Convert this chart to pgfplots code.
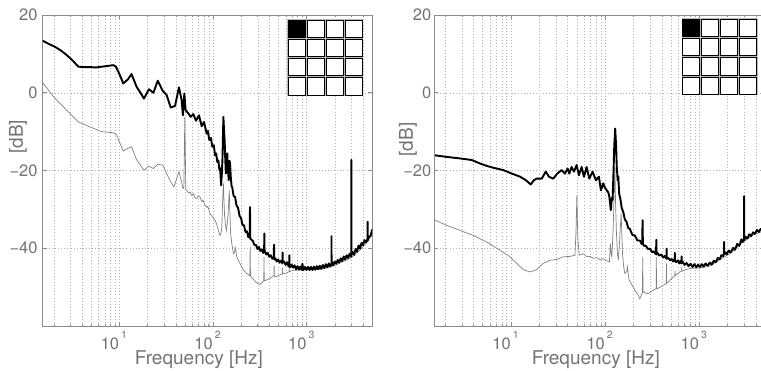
\documentclass[border=0pt]{standalone}
\usepackage{fontspec}
\setmainfont{TeX Gyre Heros}
\usepackage{pgfplots}
\pgfplotsset{compat=1.18}
\definecolor{txt}{gray}{0.45}
\definecolor{axl}{gray}{0.55}
\definecolor{grd}{gray}{0.7}
\definecolor{curv}{gray}{0.5}
\newcommand{\expo}[1]{\rlap{\hspace{2pt}\raisebox{11pt}{\fontsize{10.5}{10.5}\selectfont #1}}}
\newcommand{\icon}[2]{%
  \begin{scope}[x=1pt,y=1pt]
  \fill[gray!55] (#1,#2) rectangle ++(76,-77);
  \foreach \i in {0,...,3}{\foreach \j in {0,...,3}{
    \draw[black, line width=0.8pt, fill=white] ({#1+\i*19+1.0},{#2-\j*19.25-1.0}) rectangle ++(17,-17.25);}}
  \draw[black, line width=0.8pt, fill=black] ({#1+1.0},{#2-1.0}) rectangle ++(17,-17.25);
  \end{scope}}
\begin{document}
\begin{tikzpicture}
\begin{axis}[width=329.5pt, at={(42.7pt,45pt)}, anchor=south west,
  scale only axis, xmode=log,
  xmin=1.52, xmax=5000, ymin=-60, ymax=20, height=311pt,
  xtick={10,100,1000},
  xticklabels={10\expo{1},10\expo{2},10\expo{3}},
  minor xtick={2,3,4,5,6,7,8,9,20,30,40,50,60,70,80,90,200,300,400,500,600,700,800,900,2000,3000,4000},
  ytick={-40,-20,0,20},
  yticklabels={−40,−20,0,20},
  grid=both,
  major grid style={grd, dash pattern=on 0.5pt off 2.6pt, line width=0.45pt},
  minor grid style={grd, dash pattern=on 0.5pt off 2.6pt, line width=0.45pt},
  axis line style={axl, line width=0.6pt},
  tick style={axl, line width=0.5pt},
  major tick length=4pt, minor tick length=2pt,
  xticklabel style={anchor=north east, inner sep=0pt, yshift=-5pt, font=\fontsize{16.5}{16.5}\selectfont, text=txt},
  yticklabel style={anchor=east, inner sep=0pt, xshift=-5pt, font=\fontsize{16.5}{16.5}\selectfont, text=txt},
  xlabel={Frequency [Hz]}, ylabel={[dB]},
  xlabel style={font=\fontsize{19}{19}\selectfont, text=txt, inner sep=0pt, at={(axis description cs:0.474,0)}, anchor=base, yshift=-38.5pt},
  ylabel style={font=\fontsize{19}{19}\selectfont, text=txt, at={(axis description cs:-0.075,0.608)}, anchor=center}]
\addplot[curv, line width=0.7pt] table {
1.52 2.6
1.98 -1.0
2.74 -4.5
3.65 -7.5
4.86 -8.8
6.48 -10.0
8.63 -10.3
9.37 -10.9
11.0 -15.0
12.3 -14.3
13.5 -13.9
15.3 -17.3
18.3 -19.9
20.7 -18.9
23.1 -19.5
25.7 -18.4
29.0 -18.6
32.0 -20.8
35.3 -22.9
38.3 -24.2
43.3 -20.3
46.2 -22.9
47.7 -24.6
48.8 -24.4
50.0 -6.2
51.2 -25.0
52.3 -25.1
55.0 -25.8
57.0 -25.5
59.2 -26.4
62.0 -26.0
64.0 -27.0
66.8 -27.2
70.0 -26.5
72.6 -26.8
76.0 -28.0
78.0 -27.6
82.0 -28.9
86.0 -29.5
88.0 -29.2
92.9 -31.1
98 -31.8
105 -32.8
110 -34.0
114 -35.4
119 -36.7
122 -36.0
124 -34.5
127 -27.0
129 -23.3
131 -28.0
133 -31.9
136 -34.0
139 -35.4
142 -33.5
145 -31.1
149 -25.1
152 -32.0
154 -36.2
158 -38.5
165 -41.4
170 -41.0
172 -39.7
174 -40.0
179 -42.2
190 -43.5
202 -44.8
215 -45.8
229 -46.5
244 -47.0
247 -46.9
249 -39.7
251 -47.1
256 -47.4
270 -48.0
292 -48.9
317 -49.3
335 -48.8
348 -48.4
350 -42.2
352 -48.2
359 -48.4
380 -48.0
406 -47.8
428 -47.3
447 -47.0
449 -44.4
451 -47.1
462 -47.4
510 -46.9
550 -46.6
552 -45.0
554 -46.6
620 -46.3
650 -46.0
652 -45.0
654 -46.0
719 -45.7
820 -45.6
920 -45.5
1083 -45.5
1200 -45.6
1500 -45.3
2000 -44.4
2500 -43.3
3000 -42.4
3500 -41.0
4000 -39.6
4500 -38.2
5000 -36.3
};
\addplot[black, line width=1.9pt, line join=round] table {
1.52 13.4
1.75 12.6
2.06 11.8
2.40 10.8
2.74 9.7
3.20 8.2
3.65 6.7
4.20 6.6
4.86 6.6
5.60 6.5
6.48 6.7
7.50 6.9
8.63 7.1
9.21 6.7
10.1 4.6
11.0 2.4
12.3 3.4
13.5 4.8
15.3 1.5
16.8 0.0
18.3 -1.5
20.7 0.9
23.1 0.0
25.7 3.1
29.0 0.5
32.0 -0.6
35.3 -3.8
39.3 -3.4
43.3 1.4
46.2 -1.9
47.7 -5.8
49.4 -0.2
51.0 -4.5
54.5 -5.3
57.7 -6.2
61.6 -5.5
65.8 -7.2
70.8 -5.8
75.7 -8.6
80.1 -7.5
85.5 -10.5
88.0 -9.8
91.3 -12.2
95.0 -11.6
98.3 -13.9
102 -13.5
105 -16.1
108 -15.6
111 -17.8
114 -17.4
117 -19.9
119 -19.4
122 -23.8
124 -21.0
126 -17.3
129 -6.2
131 -9.5
133 -12.2
135 -17.0
137 -20.8
142 -15.6
144 -19.5
147 -22.5
150 -17.5
152 -18.2
155 -22.0
158 -24.2
160 -24.2
166 -26.6
172 -26.8
178 -29.0
185 -29.6
192 -31.7
199 -32.2
206 -34.0
214 -34.1
222 -35.8
230 -35.6
238 -37.2
246 -37.0
248 -29.4
250 -37.6
258 -37.8
267 -38.2
277 -39.2
287 -39.1
298 -40.2
309 -39.7
320 -40.7
332 -40.3
344 -41.2
351 -40.8
353 -36.2
355 -40.9
357 -40.7
370 -41.6
384 -41.2
398 -42.2
413 -41.8
429 -42.7
445 -42.3
448 -39.1
451 -42.9
463 -42.6
478 -43.4
496 -42.9
515 -43.7
534 -43.2
551 -43.9
553 -41.1
555 -43.5
575 -43.4
596 -44.3
618 -43.6
641 -44.7
650 -44.0
652 -41.8
654 -44.2
665 -44.9
690 -44.2
715 -45.0
742 -44.4
770 -45.4
798 -44.6
828 -45.5
859 -44.7
890 -45.6
900 -44.0
910 -44.8
924 -45.6
958 -44.8
994 -45.6
1030 -44.8
1070 -45.6
1110 -44.8
1151 -45.6
1194 -44.7
1238 -45.5
1284 -44.6
1332 -45.4
1381 -44.5
1433 -45.3
1487 -44.3
1542 -45.1
1600 -44.1
1659 -44.9
1721 -43.9
1785 -44.7
1838 -44.0
1840 -36.9
1842 -44.2
1880 -43.7
1920 -44.4
1990 -43.4
2066 -44.0
2143 -43.0
2223 -43.7
2306 -42.6
2392 -43.3
2481 -42.1
2574 -42.9
2670 -41.8
2770 -42.5
2875 -41.4
2990 -42.2
3000 -17.3
3010 -41.7
3100 -41.0
3206 -41.7
3320 -40.2
3450 -40.9
3580 -39.3
3712 -40.1
3850 -38.6
3994 -39.2
4140 -37.9
4298 -38.5
4460 -37.6
4470 -33.2
4480 -38.0
4624 -37.0
4800 -36.9
4975 -35.3
5000 -35.6
};
\end{axis}
\begin{axis}[width=331pt, at={(434pt,45pt)}, anchor=south west,
  scale only axis, xmode=log,
  xmin=1.52, xmax=5000, ymin=-60, ymax=20, height=311pt,
  xtick={10,100,1000},
  xticklabels={10\expo{1},10\expo{2},10\expo{3}},
  minor xtick={2,3,4,5,6,7,8,9,20,30,40,50,60,70,80,90,200,300,400,500,600,700,800,900,2000,3000,4000},
  ytick={-40,-20,0,20},
  yticklabels={−40,−20,0,20},
  grid=both,
  major grid style={grd, dash pattern=on 0.5pt off 2.6pt, line width=0.45pt},
  minor grid style={grd, dash pattern=on 0.5pt off 2.6pt, line width=0.45pt},
  axis line style={axl, line width=0.6pt},
  tick style={axl, line width=0.5pt},
  major tick length=4pt, minor tick length=2pt,
  xticklabel style={anchor=north east, inner sep=0pt, yshift=-5pt, font=\fontsize{16.5}{16.5}\selectfont, text=txt},
  yticklabel style={anchor=east, inner sep=0pt, xshift=-2.5pt, font=\fontsize{16.5}{16.5}\selectfont, text=txt},
  xlabel={Frequency [Hz]}, ylabel={[dB]},
  xlabel style={font=\fontsize{19}{19}\selectfont, text=txt, inner sep=0pt, at={(axis description cs:0.489,0)}, anchor=base, yshift=-38.5pt},
  ylabel style={font=\fontsize{19}{19}\selectfont, text=txt, at={(axis description cs:-0.0785,0.6)}, anchor=center}]
\addplot[curv, line width=0.7pt] table {
1.56 -32.8
2.07 -34.1
2.88 -35.4
3.98 -36.7
5.52 -38.4
7.64 -40.5
9.75 -42.2
11.5 -43.9
13.5 -45.5
15.9 -46.1
18.7 -45.5
22.0 -43.9
25.9 -43.1
30.5 -42.9
36.0 -42.2
42.3 -42.1
47.8 -41.8
49.0 -36.2
50.1 -26.4
51.2 -37.0
53.1 -41.8
58.6 -41.4
64.0 -42.2
69.0 -42.1
75.0 -42.6
81.2 -42.4
88.0 -42.9
95.5 -42.7
104 -43.2
111 -43.5
113 -40.0
114 -38.8
116 -41.5
118 -42.2
122 -34.5
125 -25.0
127 -19.1
129 -28.0
132 -36.2
135 -41.0
138 -43.1
141 -40.0
144 -36.2
148 -31.1
151 -37.0
153 -41.4
158 -45.0
162 -46.5
170 -46.0
173 -44.8
176 -46.5
180 -48.2
190 -49.2
199 -50.0
212 -51.2
225 -52.1
234 -53.0
246 -51.7
249 -51.5
251 -42.2
253 -51.3
258 -51.2
270 -51.6
287 -51.7
305 -51.2
324 -50.8
346 -50.4
349 -50.4
350 -42.2
352 -50.4
358 -50.4
385 -50.0
414 -49.5
447 -49.1
449 -43.9
451 -49.0
460 -48.9
495 -48.1
529 -47.4
550 -47.1
552 -45.8
554 -47.0
580 -46.7
622 -46.1
650 -45.9
652 -44.8
654 -45.9
700 -45.6
794 -45.2
1015 -45.1
1296 -44.6
1655 -43.0
2293 -40.8
2810 -38.6
3740 -36.6
4510 -35.8
5000 -35.0
};
\addplot[black, line width=1.9pt, line join=round] table {
1.56 -16.1
2.07 -16.5
2.88 -16.9
3.82 -17.3
4.69 -18.2
5.5 -18.8
6.49 -19.3
8.29 -19.9
10.2 -20.8
12.5 -21.6
14.4 -22.5
16.2 -23.6
17.5 -22.5
18.7 -22.1
21.2 -22.1
23.4 -20.3
25.3 -21.6
28.1 -22.1
31.0 -20.8
34.5 -19.9
37.4 -20.8
40.0 -19.5
41.6 -20.8
44.1 -19.1
46.7 -20.3
49.8 -18.6
52.7 -21.2
56.3 -19.1
59.6 -21.6
63.6 -19.1
67.9 -22.1
73.6 -20.3
79.8 -22.5
85.9 -21.6
90.2 -25.1
95.5 -23.3
100 -24.5
104 -25.1
108 -25.6
111 -26.8
115 -30.2
118 -27.0
120 -27.6
123 -20.0
125 -13.9
128 -9.2
131 -13.9
133 -19.0
136 -22.5
138 -21.5
141 -25.9
146 -27.6
150 -29.6
156 -30.7
162 -32.6
169 -33.2
176 -34.8
183 -35.0
195 -36.6
207 -36.7
220 -38.0
234 -38.0
244 -38.9
248 -38.5
250 -32.8
252 -38.8
258 -39.4
270 -39.3
285 -40.2
299 -40.1
315 -41.0
330 -40.8
345 -41.5
348 -41.3
350 -37.8
352 -41.6
360 -41.2
375 -41.9
395 -41.6
414 -42.4
430 -42.0
448 -42.7
450 -40.1
452 -42.7
470 -42.5
490 -43.1
510 -42.8
529 -43.4
548 -42.9
550 -41.2
552 -43.2
570 -43.6
595 -43.1
615 -43.9
633 -43.3
648 -43.9
650 -42.1
652 -43.9
670 -43.5
700 -44.3
735 -43.8
770 -44.6
810 -44.0
850 -44.8
890 -44.1
930 -44.9
975 -44.2
1015 -44.9
1065 -44.1
1115 -44.7
1170 -43.9
1230 -44.5
1296 -43.7
1360 -44.2
1430 -43.2
1500 -43.6
1575 -42.5
1655 -42.8
1720 -41.8
1795 -42.0
1838 -41.4
1840 -38.4
1842 -41.6
1886 -41.0
1960 -41.6
2050 -40.6
2150 -41.1
2293 -39.9
2400 -40.4
2530 -38.9
2670 -39.4
2810 -37.7
2900 -38.4
2990 -37.7
3000 -26.6
3010 -38.0
3100 -37.0
3250 -37.5
3400 -36.4
3550 -36.9
3740 -35.9
3900 -36.3
4100 -35.3
4300 -35.8
4510 -35.0
4750 -35.2
5000 -34.3
};
\end{axis}
\icon{287.3}{352}
\icon{681.7}{352.7}
\pgfresetboundingbox
\path[use as bounding box] (0,0) rectangle (761pt,371pt);
\end{tikzpicture}
\end{document}
